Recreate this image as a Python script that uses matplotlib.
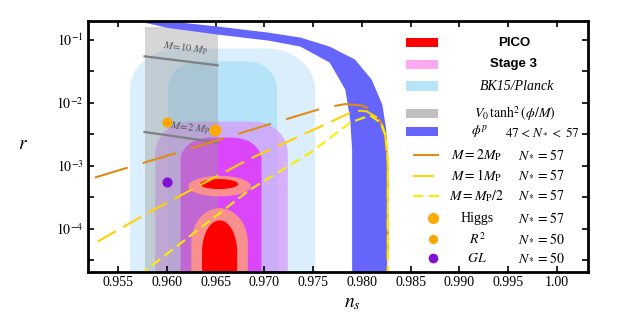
import numpy as np
import matplotlib
matplotlib.use('Agg')
import matplotlib.pyplot as plt
from matplotlib.patches import Rectangle
from matplotlib.lines import Line2D
from matplotlib.ticker import FixedLocator, NullFormatter

plt.rcParams['font.family'] = 'serif'
plt.rcParams['font.serif'] = ['Liberation Serif', 'DejaVu Serif']
plt.rcParams['mathtext.fontset'] = 'stix'

# ---- values ----
xticks = [0.955, 0.960, 0.965, 0.970, 0.975, 0.980, 0.985, 0.990, 0.995, 1.00]
xtick_labels = ['0.955', '0.960', '0.965', '0.970', '0.975', '0.980', '0.985', '0.990', '0.995', '1.00']
yticks = [1e-4, 1e-3, 1e-2, 1e-1]
ytick_labels = [r'$10^{-4}$', r'$10^{-3}$', r'$10^{-2}$', r'$10^{-1}$']
yticks_half = [10**-4.5, 10**-3.5, 10**-2.5, 10**-1.5]

# BK15/Planck (95%, 68%): ns range, top of r
bk15_ns = [(0.9562, 0.9752), (0.9601, 0.9713)]
bk15_rtop = [0.072, 0.045]
# Stage 3 forecast (95%, 68%)
stage3_ns = [(0.9588, 0.9724), (0.9614, 0.9697)]
stage3_rtop = [0.0050, 0.0028]
# PICO forecast around r = 5e-4 (95%, 68%)
pico_ns = [(0.9622, 0.9686), (0.9634, 0.9673)]
pico_r = [(3.26e-4, 6.9e-4), (4.27e-4, 6.15e-4)]
# PICO forecast for r = 0 (95%, 68%)
pico0_ns = [(0.9625, 0.9683), (0.9636, 0.9672)]
pico0_rtop = [2.13e-4, 1.36e-4]

# V0 tanh^2(phi/M) band and the M = 10 / 2 M_P lines
tanh_ns = (0.9577, 0.9652)
tanh_rtop = 0.16
tanh_m10_ns = [0.9577, 0.9652]
tanh_m10_r = [0.0543, 0.0391]
tanh_m2_ns = [0.9577, 0.9652]
tanh_m2_r = [0.00343, 0.00234]

# phi^p band, 47 < N* < 57
phip_inner_ns = [0.9535, 0.9601, 0.9652, 0.9704, 0.9737, 0.9767, 0.9783, 0.9788, 0.9790, 0.9790]
phip_inner_r = [0.259, 0.153, 0.120, 0.0964, 0.0774, 0.0431, 0.0161, 0.00537, 0.00179, 1e-6]
phip_outer_ns = [0.9572, 0.9601, 0.9652, 0.9704, 0.9737, 0.9767, 0.9793, 0.9810, 0.9821, 0.9825, 0.9826, 0.9826]
phip_outer_r = [0.259, 0.195, 0.161, 0.129, 0.1076, 0.0774, 0.0482, 0.0232, 0.00929, 0.00373, 0.00124, 1e-6]

# M = 2 M_P, N* = 57
m2_ns = [0.9526, 0.9600, 0.9700, 0.9760, 0.9783, 0.9800, 0.9811, 0.9819, 0.9824, 0.98266, 0.98266]
m2_r = [6.5e-4, 1.44e-3, 4.3e-3, 8.2e-3, 9.5e-3, 9.0e-3, 7.7e-3, 5.0e-3, 3.1e-3, 1.2e-3, 1e-6]
# M = 1 M_P, N* = 57
m1_ns = [0.9529, 0.9583, 0.9685, 0.9737, 0.9788, 0.9798, 0.9805, 0.9819, 0.9824, 0.98266, 0.98266]
m1_r = [6.3e-5, 1.88e-4, 1.29e-3, 2.99e-3, 6.9e-3, 7.46e-3, 7.28e-3, 5.4e-3, 3.1e-3, 1.2e-3, 1e-6]
# M = M_P/2, N* = 57
mh_ns = [0.9572, 0.9661, 0.9685, 0.9747, 0.9788, 0.9807, 0.9810, 0.9819, 0.9824, 0.98266, 0.98266]
mh_r = [1.86e-5, 2.15e-4, 4.16e-4, 1.61e-3, 4.82e-3, 6.2e-3, 6.07e-3, 4.82e-3, 3.1e-3, 1.2e-3, 1e-6]

# single-model points
higgs_ns, higgs_r = 0.9649, 0.00373
r2_ns, r2_r = 0.9600, 0.00486
gl_ns, gl_r = 0.9600, 5.6e-4

legend_labels = ['PICO', 'Stage 3', 'BK15/Planck', r'$V_0\,\tanh^2(\phi/M)$', r'$\phi^p$',
                 r'$M=\mathit{2}M_{\rm P}$', r'$M=\mathit{1}M_{\rm P}$', r'$M=M_{\rm P}/2$',
                 'Higgs', r'$R^2$', r'$GL$']
legend_nstar = ['', '', '', '', r'$\mathit{47}{<}\,N_*{<}\;\mathit{57}$',
                r'$N_*=57$', r'$N_*=57$', r'$N_*=57$', r'$N_*=57$', r'$N_*=50$', r'$N_*=50$']


def rounded_top(ns_lo, ns_hi, r_top, rx, ry, r_bot=1e-6, n=40):
    # region with vertical sides and rounded top corners, built in (ns, log10 r)
    lt = np.log10(r_top)
    t = np.linspace(0, np.pi / 2, n)
    lx = ns_lo + rx - rx * np.cos(t)
    ly = lt - ry + ry * np.sin(t)
    rxs = ns_hi - rx + rx * np.sin(t)
    rys = lt - ry + ry * np.cos(t)
    xs = np.concatenate([[ns_lo], lx, rxs, [ns_hi]])
    ys = np.concatenate([[np.log10(r_bot)], ly, rys, [np.log10(r_bot)]])
    return xs, 10 ** ys


def ellipse(ns_rng, r_rng, n=120):
    t = np.linspace(0, 2 * np.pi, n)
    cx, a = np.mean(ns_rng), (ns_rng[1] - ns_rng[0]) / 2
    ly = np.log10(r_rng)
    cy, b = np.mean(ly), (ly[1] - ly[0]) / 2
    return cx + a * np.cos(t), 10 ** (cy + b * np.sin(t))


fig = plt.figure(figsize=(6.24, 3.24), dpi=100)
ax = fig.add_axes([88 / 624, 52 / 324, 500 / 624, 251 / 324])
ax.set_yscale('log')

# BK15/Planck
for (lo, hi), top, c, rx, ry, z in zip(bk15_ns, bk15_rtop, ['#daeefb', '#b5e3f9'],
                                       [0.005, 0.003], [0.65, 0.45], [1.0, 1.1]):
    xs, ys = rounded_top(lo, hi, top, rx, ry)
    ax.fill(xs, ys, color=c, lw=0, zorder=z)

# Stage 3
xs, ys = rounded_top(stage3_ns[0][0], stage3_ns[0][1], stage3_rtop[0], 0.0035, 0.5)
ax.fill(xs, ys, color='#d796fa', alpha=0.7, lw=0, zorder=1.2)
xs, ys = rounded_top(stage3_ns[1][0], stage3_ns[1][1], stage3_rtop[1], 0.003, 0.35)
ax.fill(xs, ys, color='#dc46fa', lw=0, zorder=1.3)

# V0 tanh^2 band
xs, ys = rounded_top(tanh_ns[0], tanh_ns[1], tanh_rtop, 1e-9, 1e-9)
ax.fill(xs, ys, color='#9a9a9a', alpha=0.4, lw=0, zorder=1.4)
ax.plot(tanh_m10_ns, tanh_m10_r, color='#7f7f7f', lw=1.6, zorder=1.5)
ax.plot(tanh_m2_ns, tanh_m2_r, color='#7f7f7f', lw=1.6, zorder=1.5)
ax.text(0.9619, 0.074, r'$M\!=\!\mathit{10}\ M_{\rm P}$', color='#555555', fontsize=7.8,
        rotation=-7, ha='center', va='center', zorder=1.5)
ax.text(0.9624, 0.0040, r'$M\!=\!\mathit{2}\ M_{\rm P}$', color='#555555', fontsize=7.8,
        rotation=-7, ha='center', va='center', zorder=1.5)

# PICO
for rng, r_rng, c, z in zip(pico_ns, pico_r, ['#f89090', '#ff0000'], [1.6, 1.7]):
    xs, ys = ellipse(rng, r_rng)
    ax.fill(xs, ys, color=c, lw=0, zorder=z)
for (lo, hi), top, c, ry, z in zip(pico0_ns, pico0_rtop, ['#f89090', '#ff0000'], [0.55, 0.5], [1.6, 1.7]):
    xs, ys = rounded_top(lo, hi, top, (hi - lo) / 2, ry)
    ax.fill(xs, ys, color=c, lw=0, zorder=z)

# phi^p band
ax.fill(phip_inner_ns + phip_outer_ns[::-1], phip_inner_r + phip_outer_r[::-1],
        color='#6565fb', lw=0, zorder=1.8)

# model lines
ax.plot(m2_ns, m2_r, color='#e08c14', lw=1.5, dashes=(16.5, 7.5), zorder=2)
ax.plot(m1_ns, m1_r, color='#ffd200', lw=1.5, dashes=(10, 4), zorder=2.1)
ax.plot(mh_ns, mh_r, color='#ffeb00', lw=1.5, dashes=(5, 2.5), zorder=2.2)

# points
ax.plot([higgs_ns], [higgs_r], 'o', color='#ffaa00', ms=8.5, mew=0, zorder=3)
ax.plot([r2_ns], [r2_r], 'o', color='#ffa500', ms=7.3, mew=0, zorder=3)
ax.plot([gl_ns], [gl_r], 'o', color='#8210d2', ms=7.3, mew=0, zorder=3)

# legend, drawn by hand in axes fraction
rows_y = [0.913, 0.828, 0.741, 0.632, 0.558, 0.466, 0.384, 0.304, 0.214, 0.130, 0.055]
patch_colors = ['#ff0000', '#ffa8f2', '#b8e4fa', '#c0c0c0', '#6565fb']
line_styles = [('#e08c14', (16.5, 7.5)), ('#ffd200', (10, 4)), ('#ffeb00', (5, 2.5))]
dot_styles = [('#ffaa00', 8.0), ('#ffa500', 6.6), ('#8210d2', 7.0)]
tkw = dict(transform=ax.transAxes, va='center', zorder=5)
for i, y in enumerate(rows_y):
    if i < 5:
        ax.add_patch(Rectangle((0.636, y - 0.018), 0.064, 0.036, transform=ax.transAxes,
                               color=patch_colors[i], lw=0, zorder=5))
    elif i < 8:
        c, d = line_styles[i - 5]
        ax.add_line(Line2D([0.65, 0.702], [y, y], transform=ax.transAxes, color=c, lw=1.5,
                           dashes=d, zorder=5))
    else:
        c, m = dot_styles[i - 8]
        ax.plot([0.69], [y], 'o', color=c, ms=m, mew=0, transform=ax.transAxes, zorder=5)
    if i < 2:
        ax.text(0.852, y, legend_labels[i], ha='center', fontsize=9.5, fontweight='bold',
                family='Liberation Sans', **tkw)
    elif i == 2:
        ax.text(0.858, y, legend_labels[i], ha='center', fontsize=10, style='italic', **tkw)
    elif i == 3:
        ax.text(0.854, y, legend_labels[i], ha='center', fontsize=10, **tkw)
    elif i == 4:
        ax.text(0.782, y, legend_labels[i], ha='center', fontsize=10, **tkw)
        ax.text(0.834, y, legend_nstar[i], ha='left', fontsize=9.5, **tkw)
    else:
        ax.text(0.778, y, legend_labels[i], ha='center', fontsize=10, **tkw)
        ax.text(0.86, y, legend_nstar[i], ha='left', fontsize=10, **tkw)

ax.set_xlim(0.9519, 1.0032)
ax.set_ylim(2.07e-5, 0.197)
ax.set_xticks(xticks)
ax.set_xticklabels(xtick_labels)
ax.set_yticks(yticks)
ax.set_yticklabels(ytick_labels)
ax.yaxis.set_minor_locator(FixedLocator(yticks_half))
ax.yaxis.set_minor_formatter(NullFormatter())
ax.tick_params(which='both', direction='in', top=True, right=True, length=4, width=1.2,
               labelsize=10, pad=3)
for s in ax.spines.values():
    s.set_linewidth(2)

ax.set_xlabel(r'$n_s$', fontsize=14)
ax.set_ylabel(r'$r$', fontsize=14, rotation=0, ha='center', va='center')
ax.xaxis.set_label_coords(0.528, -0.09)
ax.yaxis.set_label_coords(-0.13, 0.506)

fig.savefig('out.png', dpi=100)
